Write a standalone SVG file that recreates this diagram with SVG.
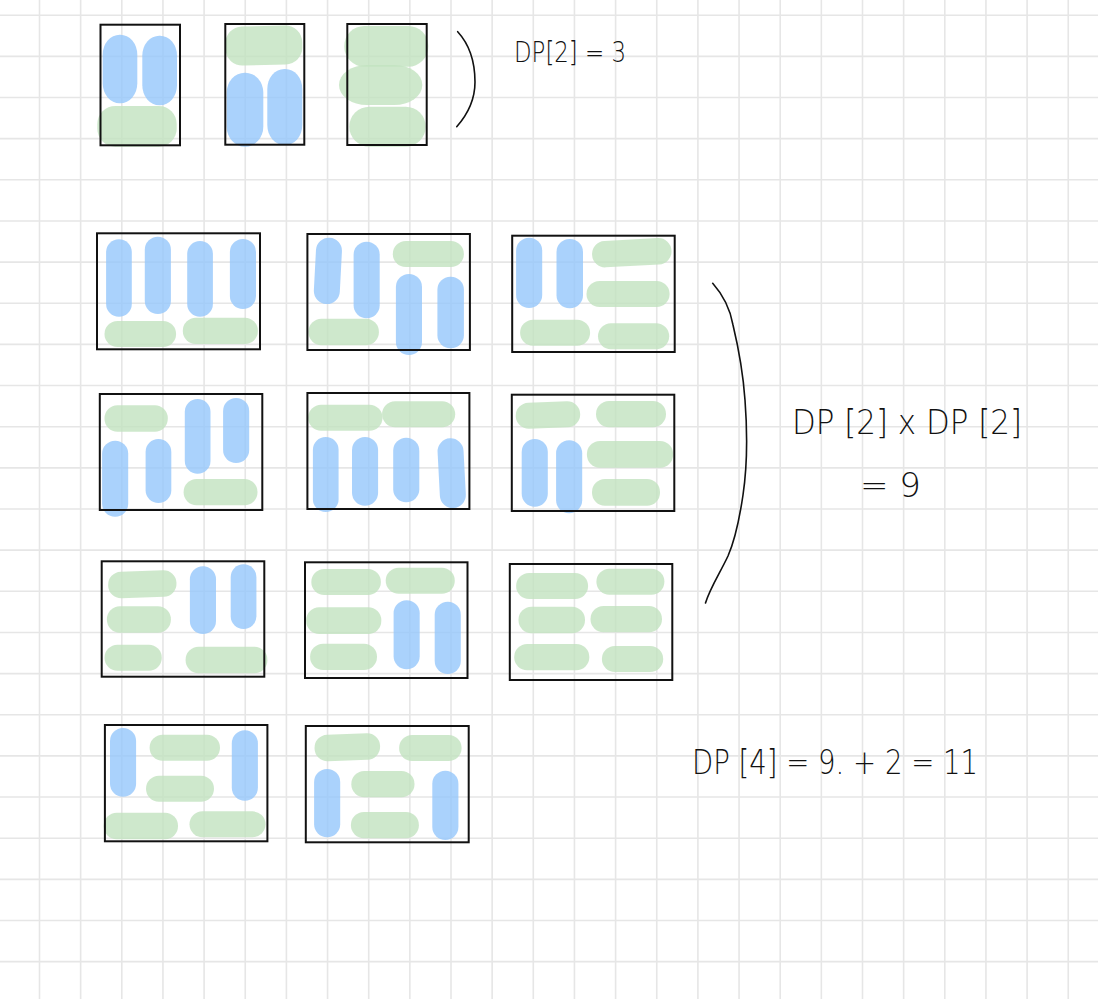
<svg xmlns="http://www.w3.org/2000/svg" width="1098" height="999" viewBox="0 0 1098 999">
<style>
.grid{stroke:#e6e6e6;stroke-width:1.6;fill:none}
.b{fill:#95c7fb;fill-opacity:0.8}
.g{fill:#c2e2bf;fill-opacity:0.8}
.box{fill:none;stroke:#111;stroke-width:2}
.br{fill:none;stroke:#111;stroke-width:1.6;stroke-linecap:round}
.t{font-family:"DejaVu Sans","Liberation Sans",sans-serif;font-weight:200;fill:#111}
</style>
<rect width="1098" height="999" fill="#fff"/>
<g id="grid" class="grid">
<path d="M39.5,0V999M80.65,0V999M121.8,0V999M162.95,0V999M204.1,0V999M245.25,0V999M286.4,0V999M327.55,0V999M368.7,0V999M409.85,0V999M451,0V999M492.15,0V999M533.3,0V999M574.45,0V999M615.6,0V999M656.75,0V999M697.9,0V999M739.05,0V999M780.2,0V999M821.35,0V999M862.5,0V999M903.65,0V999M944.8,0V999M985.95,0V999M1027.1,0V999M1068.25,0V999"/>
<path d="M0,15.2H1098M0,56.35H1098M0,97.5H1098M0,138.65H1098M0,179.8H1098M0,220.95H1098M0,262.1H1098M0,303.25H1098M0,344.4H1098M0,385.55H1098M0,426.7H1098M0,467.85H1098M0,509H1098M0,550.15H1098M0,591.3H1098M0,632.45H1098M0,673.6H1098M0,714.75H1098M0,755.9H1098M0,797.05H1098M0,838.2H1098M0,879.35H1098M0,920.5H1098M0,961.65H1098"/>
</g>

<g id="top1">
<rect class="b" x="102.7" y="34.7" width="34.6" height="68.6" rx="17" ry="20"/>
<rect class="b" x="142.3" y="35.7" width="34.7" height="69.6" rx="17" ry="20"/>
<rect class="g" x="97.3" y="106" width="79.4" height="40.7" rx="18" ry="18"/>
<rect class="box" x="100.5" y="24.7" width="79.5" height="120.6"/>
</g>
<g id="top2">
<rect class="g" x="225.3" y="26" width="77" height="39" rx="17" ry="17" transform="rotate(-1.5 263.8 45.5)"/>
<rect class="b" x="226.7" y="72.7" width="36.6" height="74" rx="18" ry="20"/>
<rect class="b" x="267.3" y="69" width="35" height="76" rx="17" ry="20"/>
<rect class="box" x="225.3" y="24" width="79" height="120.7"/>
</g>
<g id="top3">
<rect class="g" x="344.3" y="26" width="84" height="40.7" rx="20" ry="20"/>
<rect class="g" x="339" y="65" width="83.3" height="40" rx="28" ry="20"/>
<rect class="g" x="349.3" y="106.7" width="76.4" height="40" rx="20" ry="20"/>
<rect class="box" x="347.3" y="24" width="79.4" height="121"/>
</g>

<g id="boxA">
<rect class="b" x="106.1" y="239.3" width="25.7" height="77.4" rx="12.8"/>
<rect class="b" x="144.8" y="236.7" width="26.1" height="77.3" rx="13"/>
<rect class="b" x="187.2" y="241" width="25.7" height="75.7" rx="12.8"/>
<rect class="b" x="229.9" y="239" width="26.1" height="70" rx="13"/>
<rect class="g" x="104.5" y="321" width="71.6" height="26" rx="13"/>
<rect class="g" x="182.8" y="317.7" width="75.1" height="26.3" rx="13"/>
<rect class="box" x="97" y="233.3" width="163" height="116"/>
</g>
<g id="boxB">
<rect class="b" x="314.9" y="237.7" width="26" height="66.3" rx="13" transform="rotate(3 327.9 270.8)"/>
<rect class="b" x="353.6" y="241.7" width="26.1" height="76.6" rx="13"/>
<rect class="g" x="392.8" y="241" width="71.1" height="26" rx="13"/>
<rect class="b" x="395.9" y="274" width="26.1" height="81" rx="13"/>
<rect class="b" x="437.4" y="276.7" width="26.5" height="71.6" rx="13"/>
<rect class="g" x="308.5" y="318.7" width="70.4" height="26.6" rx="13"/>
<rect class="box" x="307.4" y="234" width="162.5" height="116"/>
</g>
<g id="boxC">
<rect class="b" x="516.1" y="237.7" width="26.1" height="70.3" rx="13"/>
<rect class="b" x="556.5" y="239" width="26.5" height="69.3" rx="13"/>
<rect class="g" x="592" y="239.5" width="79.5" height="26.5" rx="13" transform="rotate(-3 631.6 252.2)"/>
<rect class="g" x="586.5" y="281" width="83.1" height="26" rx="13"/>
<rect class="g" x="520.1" y="319.7" width="70" height="26" rx="13"/>
<rect class="g" x="598" y="323.3" width="71.2" height="26" rx="13"/>
<rect class="box" x="512.2" y="235.7" width="162.5" height="116.3"/>
</g>

<g id="boxD">
<rect class="g" x="104.5" y="405.3" width="63.3" height="26.4" rx="13"/>
<rect class="b" x="102.1" y="440.7" width="26.1" height="76" rx="13"/>
<rect class="b" x="145.6" y="439" width="25.7" height="64" rx="12.8"/>
<rect class="b" x="184.8" y="399" width="25.7" height="74.7" rx="12.8"/>
<rect class="b" x="223.1" y="398" width="26.1" height="65" rx="13"/>
<rect class="g" x="183.6" y="479" width="73.9" height="26.3" rx="13"/>
<rect class="box" x="99.8" y="394" width="162.5" height="116"/>
</g>
<g id="boxE">
<rect class="g" x="308.2" y="404.7" width="74.3" height="26" rx="13"/>
<rect class="g" x="382.1" y="401.3" width="73.1" height="26" rx="13"/>
<rect class="b" x="312.9" y="437" width="25.7" height="75" rx="12.8"/>
<rect class="b" x="352" y="437" width="26.1" height="68.7" rx="13"/>
<rect class="b" x="393.2" y="437.7" width="26.1" height="64.6" rx="13"/>
<rect class="b" x="438.7" y="438.3" width="26" height="69.7" rx="13" transform="rotate(-3 451.7 473.2)"/>
<rect class="box" x="307.4" y="393" width="162" height="116"/>
</g>
<g id="boxF">
<rect class="g" x="515.7" y="402" width="64.5" height="26" rx="13" transform="rotate(-2 548 415)"/>
<rect class="g" x="596" y="401" width="70" height="26.3" rx="13"/>
<rect class="b" x="521.7" y="439" width="26.1" height="67.7" rx="13"/>
<rect class="b" x="556.1" y="440.3" width="26.1" height="73" rx="13"/>
<rect class="g" x="586.9" y="441" width="86.2" height="26.7" rx="13"/>
<rect class="g" x="592" y="479" width="68" height="26.7" rx="13"/>
<rect class="box" x="511.8" y="394.7" width="162.5" height="116.3"/>
</g>

<g id="boxG">
<rect class="g" x="108.1" y="571" width="68.4" height="26.5" rx="13" transform="rotate(-2 142.3 584.2)"/>
<rect class="g" x="106.9" y="606.3" width="64" height="26.4" rx="13"/>
<rect class="g" x="104.5" y="644.7" width="57.3" height="26" rx="13"/>
<rect class="b" x="189.9" y="566.3" width="26.1" height="67.7" rx="13"/>
<rect class="b" x="230.7" y="564.3" width="25.7" height="64.7" rx="12.8"/>
<rect class="g" x="185.6" y="646.7" width="81.8" height="26.6" rx="13"/>
<rect class="box" x="101.7" y="561.3" width="162.6" height="115.4"/>
</g>
<g id="boxH">
<rect class="g" x="311.3" y="569" width="69.6" height="26" rx="13"/>
<rect class="g" x="385.7" y="567.7" width="69.1" height="26" rx="13"/>
<rect class="g" x="306.2" y="607.3" width="75.1" height="26.7" rx="13"/>
<rect class="g" x="310.1" y="643.7" width="66.9" height="26.3" rx="13"/>
<rect class="b" x="393.6" y="600.3" width="26.1" height="69" rx="13"/>
<rect class="b" x="434.7" y="601.7" width="26.1" height="72.3" rx="13"/>
<rect class="box" x="305" y="562.3" width="162.5" height="115.7"/>
</g>
<g id="boxI">
<rect class="g" x="516.1" y="573" width="72" height="26" rx="13"/>
<rect class="g" x="596.4" y="568.7" width="68" height="26" rx="13"/>
<rect class="g" x="518.5" y="606.7" width="66.5" height="26.6" rx="13"/>
<rect class="g" x="590.5" y="606" width="71.5" height="26.3" rx="13"/>
<rect class="g" x="514.2" y="644" width="75.1" height="26.3" rx="13"/>
<rect class="g" x="601.9" y="646" width="61.3" height="26" rx="13"/>
<rect class="box" x="509.8" y="564" width="162.5" height="116"/>
</g>

<g id="boxJ">
<rect class="b" x="110" y="728" width="26.1" height="68.7" rx="13"/>
<rect class="g" x="149.6" y="734.7" width="70.4" height="26" rx="13"/>
<rect class="b" x="231.8" y="730.3" width="26.1" height="70.4" rx="13"/>
<rect class="g" x="146" y="775.7" width="68" height="26" rx="13"/>
<rect class="g" x="103.7" y="812.7" width="74.3" height="26.6" rx="13"/>
<rect class="g" x="189.5" y="811.3" width="76" height="26" rx="13"/>
<rect class="box" x="104.9" y="725" width="162.5" height="116.3"/>
</g>
<g id="boxK">
<rect class="g" x="314.5" y="734" width="65.6" height="26.5" rx="13" transform="rotate(-2 347.3 747)"/>
<rect class="g" x="399.1" y="735" width="62.5" height="26" rx="13"/>
<rect class="b" x="314.1" y="769" width="26.1" height="68.3" rx="13"/>
<rect class="g" x="351.3" y="771" width="63.2" height="26.3" rx="13"/>
<rect class="b" x="432.3" y="770.7" width="26.1" height="69.3" rx="13"/>
<rect class="g" x="350.9" y="812" width="68" height="26.3" rx="13"/>
<rect class="box" x="305.8" y="726" width="162.9" height="116.3"/>
</g>

<g id="connectors">
<path class="br" d="M457.7,31.7C469,44 475,62 475,82C475,100 468,114 456.7,126.7"/>
<path class="br" d="M712.7,283.3C724,296 730,308 733,325C739,350 743,372 745,400C748,440 747,468 743,495C739,522 735,540 728,556C720,573 710,588 705.5,603"/>
</g>

<g id="labels">
<text class="t" x="514" y="61.5" font-size="28" textLength="112" lengthAdjust="spacingAndGlyphs">DP[2] = 3</text>
<text class="t" x="792" y="434" font-size="34" textLength="230" lengthAdjust="spacingAndGlyphs">DP [2] x DP [2]</text>
<text class="t" x="860" y="497" font-size="34">= 9</text>
<text class="t" x="692" y="774" font-size="34" textLength="286" lengthAdjust="spacingAndGlyphs">DP [4] = 9. + 2 = 11</text>
</g>
</svg>
